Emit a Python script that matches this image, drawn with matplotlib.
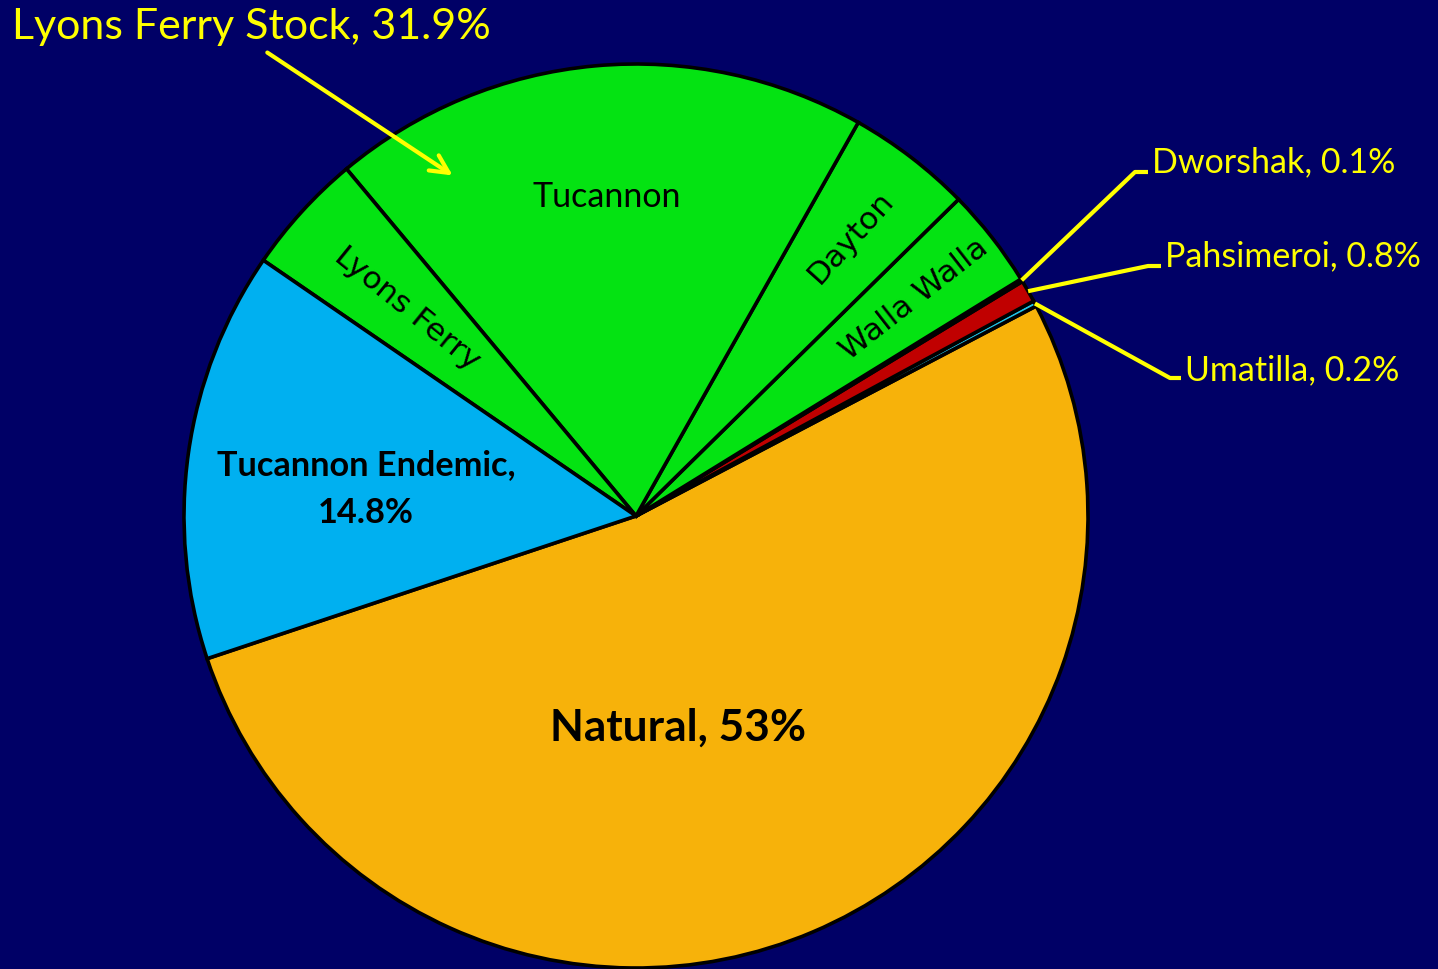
import numpy as np
import matplotlib
matplotlib.use('Agg')
from matplotlib import pyplot as plt

# fish origin shares (%), counterclockwise from the Natural wedge
names = ['Natural', 'Umatilla', 'Pahsimeroi', 'Dworshak', 'Walla Walla',
         'Dayton', 'Tucannon', 'Lyons Ferry', 'Tucannon Endemic']
shares = [53, 0.2, 0.8, 0.1, 3.6, 4.5, 19.4, 4.4, 14.8]
colors = ['#F7B20A', '#21C4E8', '#C00000', '#000000', '#04E312',
          '#04E312', '#04E312', '#04E312', '#00B0F0']
stock_label = 'Lyons Ferry Stock, 31.9%'
outside = {'Dworshak': 'Dworshak, 0.1%', 'Pahsimeroi': 'Pahsimeroi, 0.8%',
           'Umatilla': 'Umatilla, 0.2%'}

BG = '#000066'
YEL = '#FFFF00'
W, H = 1438, 970
cx, cy, R = 636, H - 517, 452

fig = plt.figure(figsize=(W / 100, H / 100), dpi=100, facecolor=BG)
ax = fig.add_axes([0, 0, 1, 1])
ax.set_facecolor(BG)

wedges, _ = ax.pie(shares, colors=colors, startangle=-161.6, center=(cx, cy),
                   radius=R, frame=True,
                   wedgeprops=dict(edgecolor='black', linewidth=2.6))
ax.set_xlim(0, W)
ax.set_ylim(0, H)
ax.set_aspect('equal')
ax.axis('off')

wd = dict(zip(names, wedges))


def mid(name):
    w = wd[name]
    return np.deg2rad((w.theta1 + w.theta2) / 2)


def at(name, frac):
    a = mid(name)
    return cx + frac * R * np.cos(a), cy + frac * R * np.sin(a)


calibri = ['Lato', 'DejaVu Sans']

# labels inside the Lyons Ferry stock wedges
x, y = at('Tucannon', 0.71)
ax.text(x, y, 'Tucannon', ha='center', va='center', fontsize=24.5,
        family=calibri, color='black')
for nm, frac, rot in [('Lyons Ferry', 0.685, -39), ('Dayton', 0.78, 48),
                      ('Walla Walla', 0.78, 38)]:
    x, y = at(nm, frac)
    ax.text(x, y, nm, ha='center', va='center', rotation=rot,
            rotation_mode='anchor', fontsize=22.5, family='DejaVu Sans',
            color='black')

ax.text(366, H - 489, 'Tucannon Endemic,\n14.8%', ha='center', va='center',
        fontsize=24.7, fontweight='bold', family=calibri, color='black',
        linespacing=1.6)
ax.text(678, H - 728, 'Natural, 53%', ha='center', va='center', fontsize=31.8,
        fontweight='bold', family=calibri, color='black')

# leader lines for the thin wedges
elbows = {'Dworshak': (1135, 173, 1148, 162),
          'Pahsimeroi': (1148, 267, 1161, 256),
          'Umatilla': (1170, 379, 1181, 370)}
for nm, (ex, ey, hx, ty) in elbows.items():
    a = mid(nm)
    rx, ry = cx + R * np.cos(a), cy + R * np.sin(a)
    ax.plot([rx, ex, hx], [ry, H - ey, H - ey], color=YEL, lw=3,
            solid_capstyle='butt', zorder=5)
    ax.text(hx + 4, H - ty, outside[nm], ha='left', va='center',
            fontsize=24.5, family=calibri, color=YEL)

ax.text(12, H - 27, stock_label, ha='left', va='center', fontsize=31,
        family=calibri, color=YEL)
ax.annotate('', xy=(455, H - 178), xytext=(265, H - 52),
            arrowprops=dict(arrowstyle='->,head_length=1.3,head_width=0.65',
                            color=YEL, lw=3))

fig.savefig('out.png', dpi=100, facecolor=BG)
